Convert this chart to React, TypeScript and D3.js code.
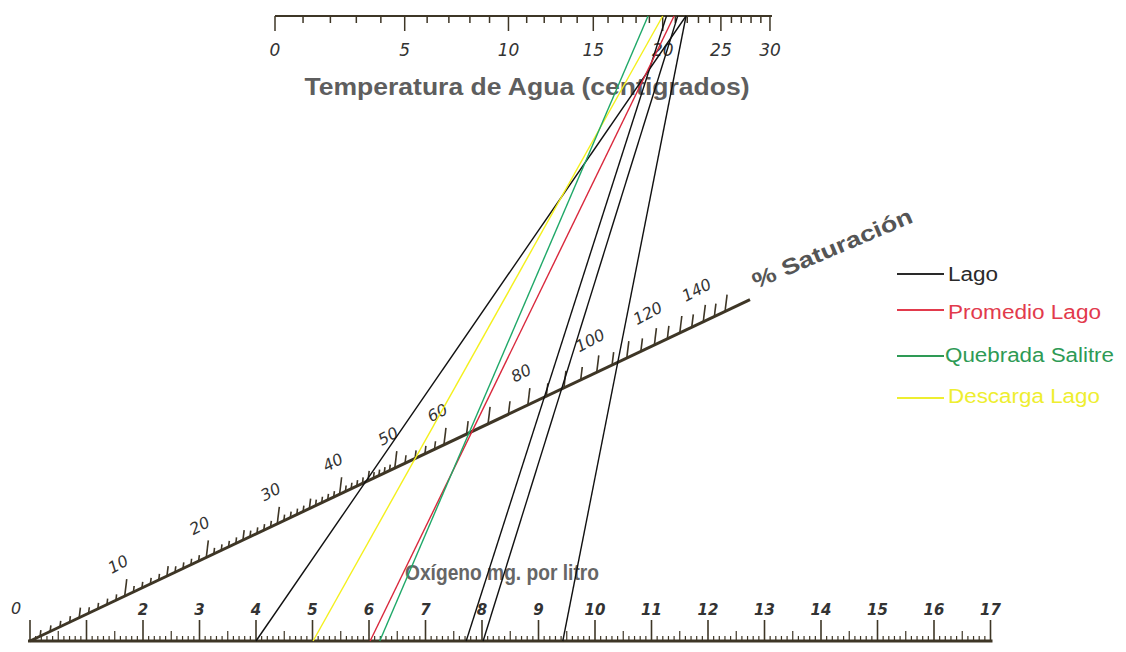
import React from 'react';
import * as d3 from 'd3';

// ---------- data ----------
// Temperature scale ticks (°C) and dissolved-oxygen saturation (mg/L) at each temperature
const temperatureTicks = [0, 1, 2, 3, 4, 5, 6, 7, 8, 9, 10, 11, 12, 13, 14, 15, 16, 17, 18, 19, 20, 21, 22, 23, 24, 25, 26, 27, 28, 29, 30];
const oxygenAtSaturation = [14.62, 14.22, 13.83, 13.46, 13.11, 12.77, 12.45, 12.14, 11.84, 11.56, 11.29, 11.03, 10.78, 10.54, 10.31, 10.08, 9.87, 9.66, 9.47, 9.28, 9.09, 8.91, 8.74, 8.58, 8.42, 8.26, 8.11, 7.97, 7.83, 7.69, 7.56];
const temperatureLabels = [0, 5, 10, 15, 20, 25, 30];

// Oxygen scale (mg/L)
const oxygenLabels = [2, 3, 4, 5, 6, 7, 8, 9, 10, 11, 12, 13, 14, 15, 16, 17];

// % Saturation scale
const saturationLabels = [10, 20, 30, 40, 50, 60, 80, 100, 120, 140];

// Series: oxygen (bottom) and temperature (top) of each drawn line
const seriesNames = ['Lago', 'Promedio Lago', 'Quebrada Salitre', 'Descarga Lago'];
const seriesColors = ['#111111', '#d9283c', '#1fa868', '#f4f01c'];
const legendColors = ['#2a2a2a', '#e23a4c', '#2e9a55', '#eeee30'];
const lagoOxygen = [4.0, 7.72, 8.02, 9.43];
const lagoTemperature = [21.9, 20.3, 21.2, 21.9];
const promedioOxygen = [6.02];
const promedioTemperature = [20.9];
const quebradaOxygen = [6.19];
const quebradaTemperature = [18.9];
const descargaOxygen = [5.01];
const descargaTemperature = [20.0];

// ---------- layout ----------
const W = 1126;
const H = 652;
const yBottom = 641;
const yTop = 16;
const axisColor = '#3e3626';
const labelColor = '#333';

const oxygenX = d3.scaleLinear().domain([0, 17]).range([30, 990.5]);
const tempToSat = d3.scaleLinear().domain(temperatureTicks).range(oxygenAtSaturation);
const satToTopX = d3.scaleLinear().domain([0, 14.62]).range([1300, 275]);
const tempX = (t: number) => satToTopX(tempToSat(t));

// Z-nomogram diagonal: fraction along the diagonal for a given saturation
const pxPerMgBottom = oxygenX(1) - oxygenX(0);
const pxPerMgTop = satToTopX(0) - satToTopX(1);
const diagX = d3.scaleLinear().domain([0, 1]).range([oxygenX(0), satToTopX(0)]);
const diagSlope = 0.474;
const satPoint = (s: number) => {
  const r = s / 100;
  const t = (pxPerMgBottom * r) / (pxPerMgBottom * r + pxPerMgTop);
  const x = diagX(t);
  const y = yBottom - diagSlope * (x - oxygenX(0));
  return [x, y];
};

const italicFont = '"DejaVu Sans", "Liberation Sans", sans-serif';
const sansFont = '"Liberation Sans", Arial, sans-serif';

export default function App() {
  const series = [
    { o: lagoOxygen, t: lagoTemperature, c: seriesColors[0] },
    { o: descargaOxygen, t: descargaTemperature, c: seriesColors[3] },
    { o: promedioOxygen, t: promedioTemperature, c: seriesColors[1] },
    { o: quebradaOxygen, t: quebradaTemperature, c: seriesColors[2] },
  ];

  const bottomTicks = d3.range(0, 171).map((i) => i / 10);
  const topTicks = temperatureTicks;
  const satTicks = [
    ...d3.range(1, 50),
    ...d3.range(50, 60, 2),
    ...d3.range(60, 155, 5),
  ];

  const diagEndX = 750;
  const diagEndY = yBottom - diagSlope * (diagEndX - oxygenX(0));

  return (
    <div style={{ position: 'fixed', left: 0, top: 0, width: W, height: H, background: '#fff' }}>
      <svg width={W} height={H} viewBox={`0 0 ${W} ${H}`}>
        <rect x={0} y={0} width={W} height={H} fill="#fff" />

        {/* ---- Titles ---- */}
        <text x={527} y={95} textAnchor="middle" fontFamily={sansFont} fontWeight="bold" fontSize={23}
          fill="#5e5e5e" textLength={445} lengthAdjust="spacingAndGlyphs">
          Temperatura de Agua (centigrados)
        </text>
        <text x={0} y={0} transform="translate(756,289) rotate(-23)" fontFamily={sansFont} fontWeight="bold"
          fontSize={22} fill="#555" textLength={172} lengthAdjust="spacingAndGlyphs">
          % Saturación
        </text>
        <text x={502} y={580} textAnchor="middle" fontFamily={sansFont} fontWeight="bold" fontSize={22}
          fill="#666" textLength={194} lengthAdjust="spacingAndGlyphs">
          Oxígeno mg. por litro
        </text>

        {/* ---- Top temperature axis ---- */}
        <line x1={tempX(0)} x2={tempX(30) + 2} y1={yTop} y2={yTop} stroke={axisColor} strokeWidth={2} />
        {topTicks.map((t) => (
          <line key={'tt' + t} x1={tempX(t)} x2={tempX(t)} y1={yTop}
            y2={yTop + (t % 5 === 0 ? 15 : 7)} stroke={axisColor} strokeWidth={1.5} />
        ))}
        {temperatureLabels.map((t) => (
          <text key={'tl' + t} x={tempX(t)} y={56} textAnchor="middle" fontFamily={italicFont}
            fontStyle="italic" fontSize={17} fill={labelColor}>
            {t}
          </text>
        ))}

        {/* ---- Bottom oxygen axis ---- */}
        <line x1={oxygenX(0) - 2} x2={oxygenX(17) + 2} y1={yBottom} y2={yBottom} stroke={axisColor} strokeWidth={3} />
        {bottomTicks.map((v, i) => {
          const len = i % 10 === 0 ? 21 : i % 5 === 0 ? 10 : 5;
          return (
            <line key={'bt' + i} x1={oxygenX(v)} x2={oxygenX(v)} y1={yBottom} y2={yBottom - len}
              stroke={axisColor} strokeWidth={i % 10 === 0 ? 1.6 : 1.2} />
          );
        })}
        <text x={16} y={614} textAnchor="middle" fontFamily={italicFont} fontStyle="italic" fontSize={16}
          fill={labelColor}>0</text>
        {oxygenLabels.map((v) => (
          <text key={'bl' + v} x={oxygenX(v)} y={615} textAnchor="middle" fontFamily={italicFont}
            fontStyle="italic" fontWeight="bold" fontSize={15} fill={labelColor}>
            {v}
          </text>
        ))}

        {/* ---- Diagonal saturation axis ---- */}
        <line x1={oxygenX(0)} y1={yBottom} x2={diagEndX} y2={diagEndY} stroke={axisColor} strokeWidth={3} />
        {satTicks.map((s) => {
          const [x, y] = satPoint(s);
          let len = 5;
          if (s <= 50) len = s % 10 === 0 ? 17 : s % 5 === 0 ? 10 : 6;
          else if (s < 60) len = 8;
          else len = s % 10 === 0 ? 17 : 13;
          return (
            <line key={'st' + s} x1={x} x2={x + len * 0.12} y1={y} y2={y - len}
              stroke={axisColor} strokeWidth={1.6} />
          );
        })}
        {saturationLabels.map((s) => {
          const [x, y] = satPoint(s);
          return (
            <text key={'sl' + s} transform={`translate(${x - 4},${y - 27}) rotate(-28)`} textAnchor="middle"
              fontFamily={italicFont} fontStyle="italic" fontSize={16} fill={labelColor}>
              {s}
            </text>
          );
        })}

        {/* ---- Data lines ---- */}
        {series.map((sr, si) =>
          sr.o.map((o, i) => (
            <line key={'dl' + si + '-' + i} x1={oxygenX(o)} y1={yBottom} x2={tempX(sr.t[i])} y2={yTop}
              stroke={sr.c} strokeWidth={1.4} />
          ))
        )}

        {/* ---- Legend ---- */}
        {seriesNames.map((n, i) => {
          const ys = [274, 310, 356, 398];
          const ty = [281, 319, 362, 403];
          const lens = [50, 153, 169, 152];
          return (
            <g key={'lg' + n}>
              <line x1={897} x2={944} y1={ys[i]} y2={ys[i]} stroke={legendColors[i]} strokeWidth={2} />
              <text x={i === 2 ? 945 : 948} y={ty[i]} fontFamily={sansFont} fontSize={20} fill={legendColors[i]}
                textLength={lens[i]} lengthAdjust="spacingAndGlyphs">
                {n}
              </text>
            </g>
          );
        })}
      </svg>
    </div>
  );
}
